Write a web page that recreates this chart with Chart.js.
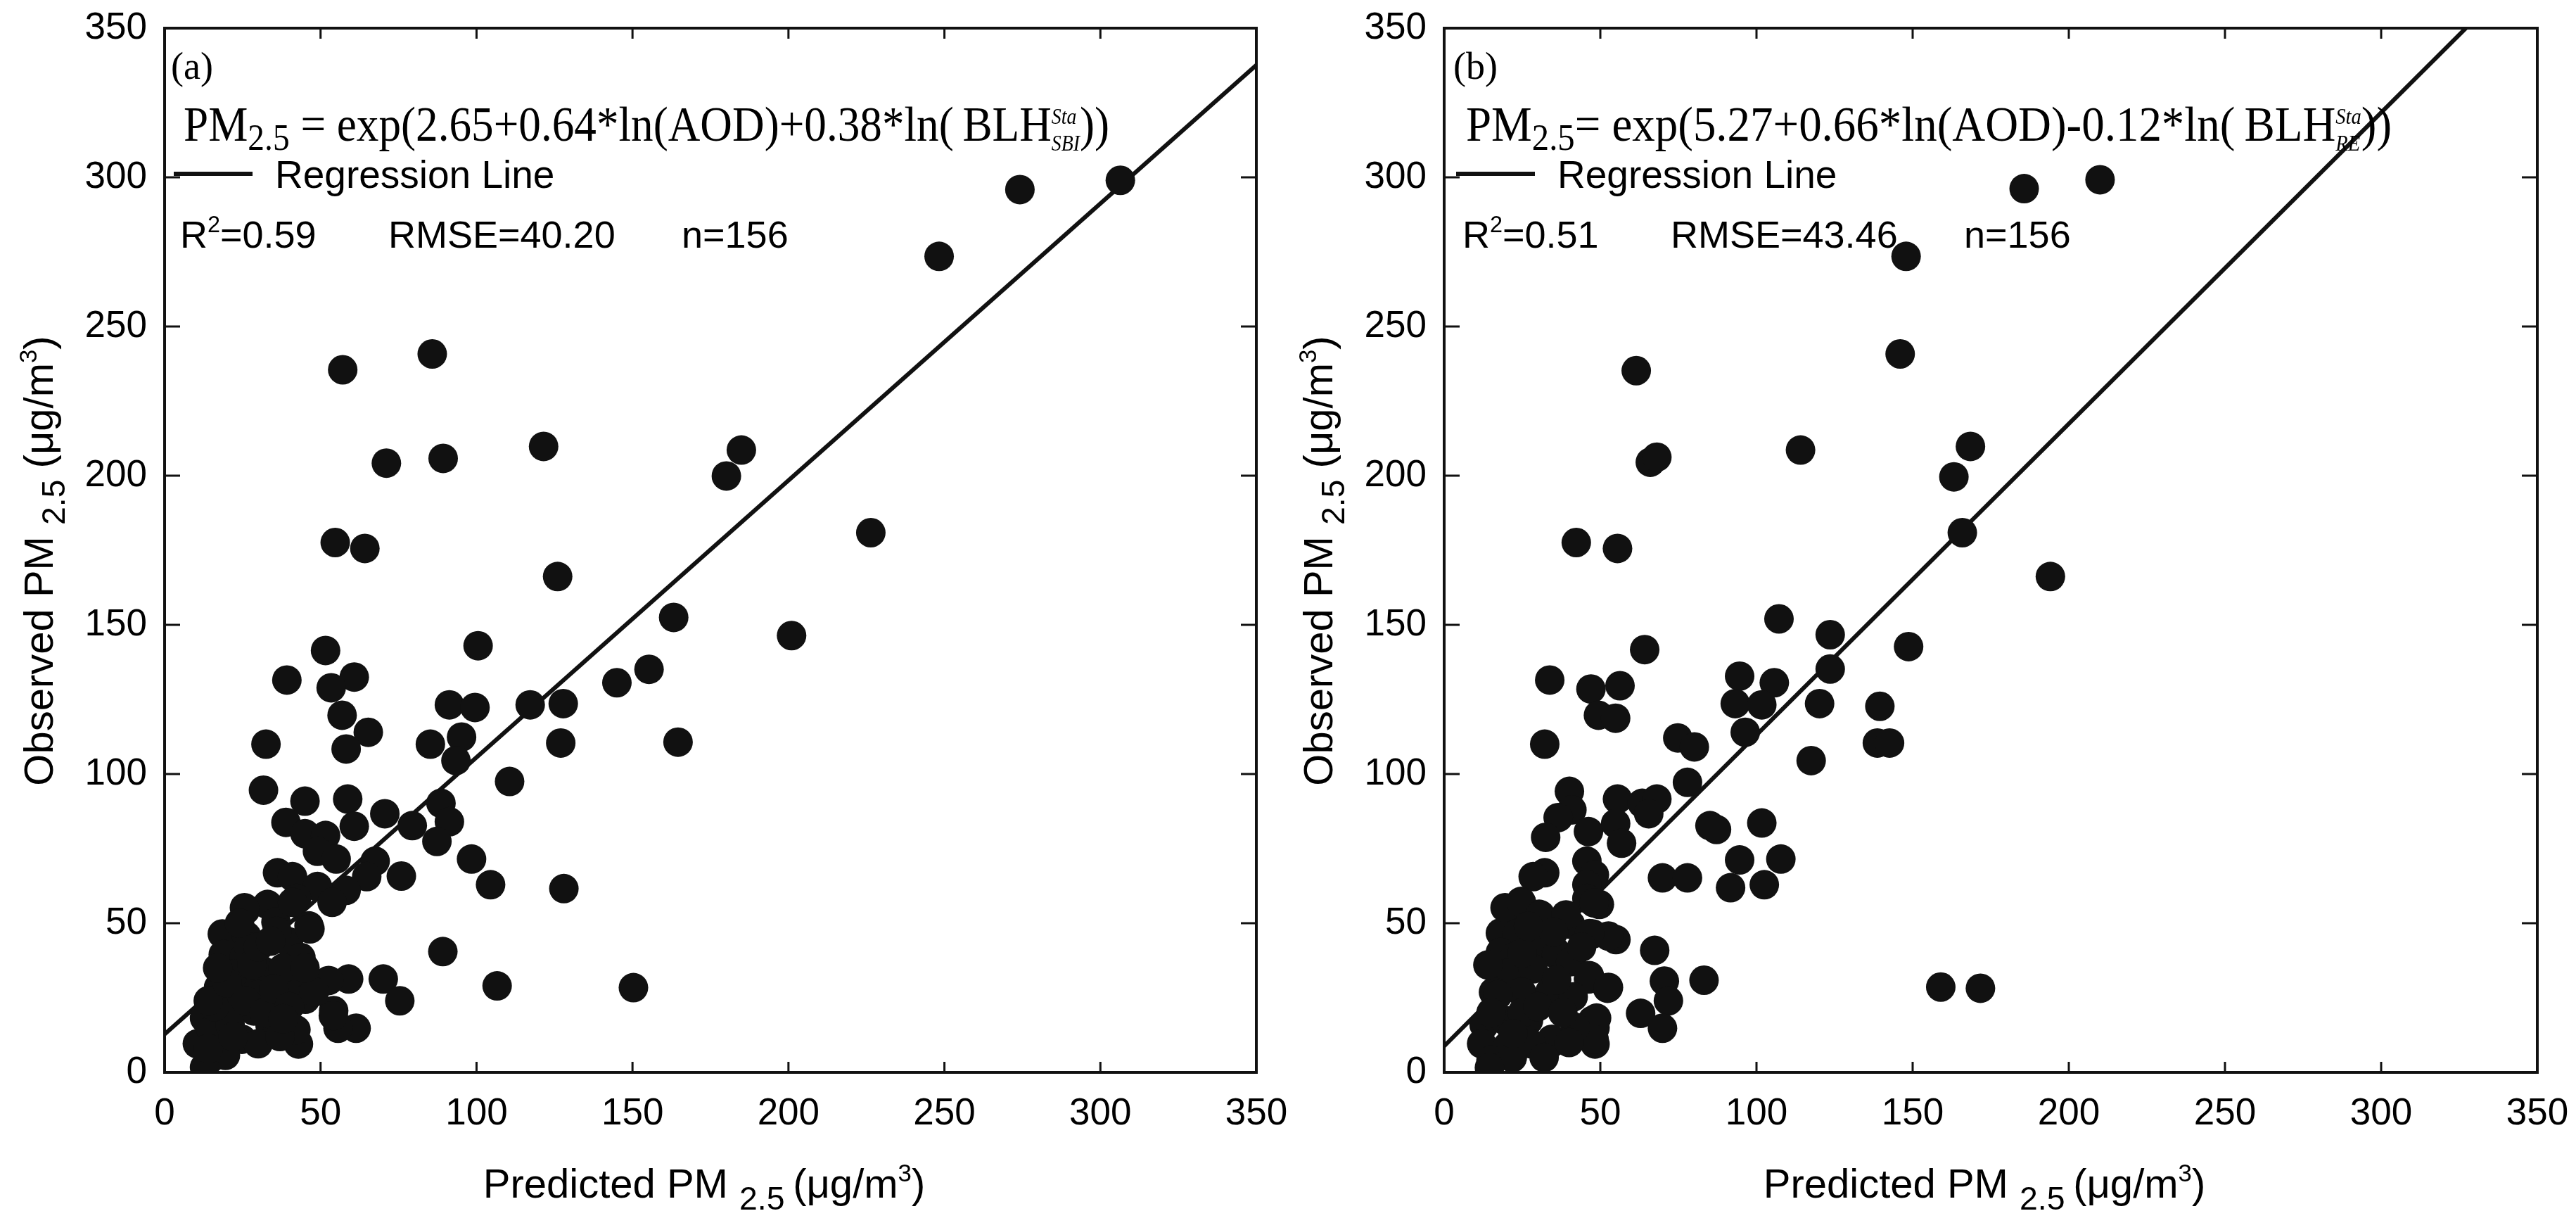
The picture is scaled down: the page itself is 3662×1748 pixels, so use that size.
<!DOCTYPE html>
<html>
<head>
<meta charset="utf-8">
<script src="https://cdn.jsdelivr.net/npm/chart.js@4.4.1/dist/chart.umd.min.js"></script>
<style>
  html, body { margin: 0; padding: 0; background: #fff; }
  canvas { position: absolute; top: 0; }
  #chartA { left: 0; }
  #chartB { left: 1830px; }
</style>
</head>
<body>
<canvas id="chartA" width="1830" height="1748"></canvas>
<canvas id="chartB" width="1832" height="1748"></canvas>
<script>
// axis ticks (same on both panels, both axes)
const tickValues = [0, 50, 100, 150, 200, 250, 300, 350];
const tickLabels = ['0', '50', '100', '150', '200', '250', '300', '350'];

// panel (a): predicted vs observed PM2.5
const predA = [306.4, 274.2, 248.3, 85.8, 57.1, 121.5, 89.3, 71.1, 184.9, 180.1, 226.4, 54.7, 64.2, 126, 163.2,
  51.6, 39.2, 60.8, 53.4, 100.5, 201, 145, 155.3, 91.3, 99.5, 117.2, 127.8, 56.9, 65.3, 58.2,
  32.5, 85.2, 95.2, 93.4, 127, 164.6, 110.6, 31.7, 45, 58.7, 70.6, 88.6, 38.9, 60.8, 79.4,
  91.3, 87.3, 45, 51.6, 49, 55, 98.4, 67.5, 36.2, 41, 64.8, 75.9, 104.5, 128, 58.2,
  49, 42.3, 25.9, 33, 53.7, 35.7, 46.3, 39.7, 18.5, 43.7, 21.2, 89.2, 70.1, 59, 106.6,
  150.3, 75.4, 54.2, 61.4, 55.6, 42.9, 31.7, 25.6, 41, 26.3, 36, 46.6, 18.8, 25.6, 31.6,
  17.3, 24.8, 33.1, 40.6, 52.6, 45.1, 12.8, 19.5, 28.6, 33.8, 42.1, 54.1, 10.5, 18, 24.8,
  30, 15, 19.5, 12.8, 22, 28, 15, 21, 36, 38, 27, 22, 16, 30, 48, 37,
  14, 20, 26, 32, 14, 22, 35, 28, 17, 40, 38, 45, 24, 30, 34];
const obsA = [299, 295.9, 273.5, 240.8, 235.5, 209.8, 205.8, 204.2, 208.6, 199.9, 180.9, 177.6, 175.6, 166.2, 152.5,
  141.4, 131.5, 132.5, 128.9, 143, 146.4, 130.6, 135.1, 123.2, 122.3, 123.2, 123.6, 119.7, 114, 108.4,
  110, 110, 112.4, 104.5, 110.4, 110.7, 97.5, 94.6, 90.9, 91.6, 86.7, 90.2, 83.8, 82.5, 82.7,
  84, 77.4, 80, 79.4, 74.1, 71.5, 71.5, 70.8, 66.9, 65.6, 65.6, 65.8, 62.9, 61.6, 61,
  62.3, 58.3, 54.4, 56.3, 57, 50.4, 49.1, 43.8, 46.4, 38.5, 39.8, 40.5, 31.3, 31.3, 29,
  28.4, 24, 20.7, 14.8, 14.8, 9.5, 33.2, 55.2, 57, 45.7, 47.3, 48.1, 39.5, 38.7, 34,
  28.5, 29.2, 26.9, 29.2, 30.8, 24.5, 18.2, 20.6, 20.6, 15.9, 14.3, 19, 9.6, 11.1, 11.1,
  9.6, 4.9, 5.7, 1.7, 25, 30, 14, 16, 20, 35, 42, 33, 22, 26, 27, 12,
  24, 30, 24, 20, 8, 12, 28, 36, 35, 22, 18, 35, 50, 42, 44];

// panel (b)
const predB = [210, 185.7, 147.9, 146, 61.5, 114.1, 168.5, 66, 68.1, 163.2, 165.9, 42.3, 55.5, 194.1, 107.2,
  123.6, 148.7, 64.2, 123.6, 94.6, 105.7, 33.8, 47, 56.3, 93.2, 101.7, 120.2, 139.5, 49.4, 54.9,
  96.4, 32.2, 74.8, 80.1, 138.7, 142.6, 117.5, 77.9, 40.1, 55.5, 63.4, 68.1, 65.5, 40.9, 36.5,
  54.9, 101.7, 85.1, 87.2, 32.5, 46.2, 56.8, 107.8, 94.6, 45.7, 32.2, 28.5, 48.1, 69.9, 77.9,
  45.7, 102.5, 91.7, 45.7, 49.7, 24.6, 21.1, 30.4, 40.4, 47.5, 55, 18, 19.3, 29.1, 35.7,
  67.4, 40.9, 46.2, 70.5, 83.2, 52.3, 159, 171.7, 71.8, 62.9, 47.5, 48.3, 69.9, 48.3, 34.3,
  19.5, 24.8, 30.8, 39, 48, 52.6, 46.5, 23.3, 30, 18, 22.5, 36, 40.5, 46.5, 52.6,
  20.3, 28.5, 15.8, 24.8, 33.8, 41.3, 48.8, 48, 42, 34.5, 12.8, 19.5, 27, 12, 20.3,
  27.8, 15, 21.8, 14.5, 17.2,
  25, 30, 38, 36, 25, 15, 22, 32, 40, 44, 35, 27, 14];
const obsB = [299.2, 296.2, 273.5, 240.8, 235.2, 208.6, 209.8, 204.5, 206.2, 199.6, 180.9, 177.6, 175.6, 166.2, 152,
  146.7, 142.7, 141.7, 135.2, 132.8, 130.6, 131.5, 128.5, 129.6, 123.6, 123.2, 123.6, 122.7, 119.7, 118.7,
  114, 110, 112.1, 109.1, 110.4, 110.4, 104.5, 97.2, 94.2, 91.6, 90.2, 91.6, 86.7, 88, 85.4,
  83.4, 83.6, 82.7, 81.4, 78.8, 80.7, 76.8, 71.5, 71.2, 70.8, 66.9, 65.6, 66.2, 65.2, 65.2,
  62.9, 62.9, 61.9, 58.3, 56.3, 57.3, 54.6, 53, 49.7, 46.4, 44.5, 46.7, 39.8, 41.8, 40.5,
  40.9, 38.5, 31.3, 30.6, 30.9, 28.2, 28.6, 28.2, 24, 19.8, 17.4, 15, 14.8, 9.5, 9.8,
  55.2, 56.8, 52.8, 52.8, 56.8, 45.7, 46.5, 46.5, 45.7, 40.2, 38.7, 39.5, 37.1, 32.4, 28.5,
  33.2, 34.7, 26.9, 26.9, 26.9, 25.3, 18.2, 11.1, 15.1, 11.1, 15.9, 17.4, 17.4, 9.6, 8.8,
  9.6, 4.1, 4.9, 1.6, 26,
  20, 22, 20, 31, 40, 20, 13, 5, 10, 42, 47, 49, 36];

// regression lines [intercept, slope]
const regA = [12.8, 0.928];
const regB = [8.8, 1.043];

const SANS = '"Liberation Sans", Arial, sans-serif';
const SERIF = '"Liberation Serif", "Times New Roman", serif';
const INK = '#111';

// draws a run of text pieces (sub/superscripts, stacked indices); returns width
function runRich(ctx, parts, x, y, family, size, draw) {
  let cx = x;
  parts.forEach(p => {
    const fs = size * (p.s || 1);
    if (p.stack) {
      ctx.font = 'italic ' + fs + 'px ' + family;
      const w = Math.max(ctx.measureText(p.stack[0]).width, ctx.measureText(p.stack[1]).width);
      if (draw) {
        ctx.fillText(p.stack[0], cx, y - size * 0.34);
        ctx.fillText(p.stack[1], cx, y + size * 0.2);
      }
      cx += w;
    } else {
      ctx.font = (p.it ? 'italic ' : '') + fs + 'px ' + family;
      if (draw) ctx.fillText(p.t, cx, y + (p.dy || 0) * size);
      cx += ctx.measureText(p.t).width;
    }
  });
  return cx - x;
}

function makePanel(id, pred, obs, reg, info) {
  const points = pred.map((v, i) => ({ x: v, y: obs[i] }));
  const line = [0, 350].map(v => ({ x: v, y: reg[0] + reg[1] * v }));

  const decor = {
    id: 'decor',
    afterDraw(chart) {
      const ctx = chart.ctx;
      const a = chart.chartArea;
      const xs = chart.scales.x, ys = chart.scales.y;
      ctx.save();
      ctx.strokeStyle = INK;
      ctx.fillStyle = '#000';
      ctx.lineWidth = 4;
      ctx.strokeRect(a.left, a.top, a.right - a.left, a.bottom - a.top);
      // inward ticks on all four sides
      ctx.lineWidth = 3;
      ctx.beginPath();
      tickValues.forEach(v => {
        const px = xs.getPixelForValue(v);
        ctx.moveTo(px, a.bottom); ctx.lineTo(px, a.bottom - 15);
        ctx.moveTo(px, a.top); ctx.lineTo(px, a.top + 15);
        const py = ys.getPixelForValue(v);
        ctx.moveTo(a.left, py); ctx.lineTo(a.left + 22, py);
        ctx.moveTo(a.right, py); ctx.lineTo(a.right - 22, py);
      });
      ctx.stroke();

      ctx.textBaseline = 'alphabetic';
      ctx.textAlign = 'left';
      // panel letter
      ctx.font = '54px ' + SERIF;
      ctx.fillText(info.label, a.left + 9 + info.dx, a.top + 72);

      // equation, squeezed to the width it has in the figure
      const natural = runRich(ctx, info.eq, 0, 0, SERIF, 70, false);
      ctx.save();
      ctx.translate(a.left + 27 + info.dx, a.top + 160);
      ctx.scale(1316 / natural, 1);
      runRich(ctx, info.eq, 0, 0, SERIF, 70, true);
      ctx.restore();

      // legend
      ctx.lineWidth = 6;
      ctx.beginPath();
      ctx.moveTo(a.left + 13 + info.dx, a.top + 207);
      ctx.lineTo(a.left + 125 + info.dx, a.top + 207);
      ctx.stroke();
      ctx.font = '55px ' + SANS;
      ctx.fillText('Regression Line', a.left + 157 + info.dx, a.top + 227);

      // statistics
      runRich(ctx, [{ t: 'R' }, { t: '2', s: 0.6, dy: -0.4 }, { t: info.r2 }], a.left + 22 + info.dx, a.top + 312, SANS, 54, true);
      ctx.font = '54px ' + SANS;
      ctx.fillText(info.rmse, a.left + 318 + info.dx, a.top + 312);
      ctx.fillText(info.n, a.left + 735 + info.dx, a.top + 312);

      // axis titles
      const xt = [{ t: 'Predicted PM ' }, { t: '2.5', s: 0.8, dy: 0.3 }, { t: '\u2009(μg/m' }, { t: '3', s: 0.6, dy: -0.4 }, { t: ')' }];
      const xw = runRich(ctx, xt, 0, 0, SANS, 58, false);
      runRich(ctx, xt, (a.left + a.right) / 2 - 9 - xw / 2, a.bottom + 178, SANS, 58, true);

      const yt = [{ t: 'Observed PM ' }, { t: '2.5', s: 0.8, dy: 0.3 }, { t: ' (μg/m' }, { t: '3', s: 0.6, dy: -0.4 }, { t: ')' }];
      const yw = runRich(ctx, yt, 0, 0, SANS, 58, false);
      ctx.save();
      ctx.translate(a.left - 159, (a.top + a.bottom) / 2 + 15);
      ctx.rotate(-Math.PI / 2);
      runRich(ctx, yt, -yw / 2, 0, SANS, 58, true);
      ctx.restore();
      ctx.restore();
    }
  };

  const tickFont = { family: SANS, size: 53 };

  return new Chart(document.getElementById(id), {
    type: 'scatter',
    data: {
      datasets: [
        {
          label: 'Observations',
          data: points,
          backgroundColor: INK,
          borderWidth: 0,
          pointRadius: 21,
          pointHoverRadius: 21,
          clip: 0,
        },
        {
          type: 'line',
          label: 'Regression Line',
          data: line,
          borderColor: INK,
          borderWidth: 6,
          pointRadius: 0,
          fill: false,
          clip: 0,
        },
      ],
    },
    options: {
      responsive: false,
      animation: false,
      devicePixelRatio: 1,
      layout: { padding: { top: 40, right: info.padRight, left: 0, bottom: 0 } },
      plugins: { legend: { display: false }, tooltip: { enabled: false } },
      scales: {
        x: {
          type: 'linear',
          min: 0,
          max: 350,
          afterBuildTicks: s => { s.ticks = tickValues.map(v => ({ value: v })); },
          ticks: { callback: (v, i) => tickLabels[i], font: tickFont, color: '#000', padding: 28, maxRotation: 0, autoSkip: false },
          grid: { display: false, drawTicks: false },
          border: { display: false },
          afterFit: s => { s.height = 224; s.paddingLeft = 0; s.paddingRight = 0; },
        },
        y: {
          type: 'linear',
          min: 0,
          max: 350,
          afterBuildTicks: s => { s.ticks = tickValues.map(v => ({ value: v })); },
          ticks: { callback: (v, i) => tickLabels[i], font: tickFont, color: '#000', padding: 25, autoSkip: false },
          grid: { display: false, drawTicks: false },
          border: { display: false },
          afterFit: s => { s.width = info.axisWidth; s.paddingTop = 0; s.paddingBottom = 0; },
        },
      },
    },
    plugins: [decor],
  });
}

makePanel('chartA', predA, obsA, regA, {
  label: '(a)',
  eq: [{ t: 'PM' }, { t: '2.5', s: 0.75, dy: 0.19 }, { t: ' = exp(2.65+0.64*ln(AOD)+0.38*ln(\u2009BLH' }, { stack: ['Sta', 'SBI'], s: 0.44 }, { t: '))' }],
  r2: '=0.59', rmse: 'RMSE=40.20', n: 'n=156',
  axisWidth: 234, padRight: 44, dx: 0,
});

makePanel('chartB', predB, obsB, regB, {
  label: '(b)',
  eq: [{ t: 'PM' }, { t: '2.5', s: 0.75, dy: 0.19 }, { t: '= exp(5.27+0.66*ln(AOD)-0.12*ln(\u2009BLH' }, { stack: ['Sta', 'RE'], s: 0.44 }, { t: '))' }],
  r2: '=0.51', rmse: 'RMSE=43.46', n: 'n=156',
  axisWidth: 223, padRight: 55, dx: 4,
});
</script>
</body>
</html>
